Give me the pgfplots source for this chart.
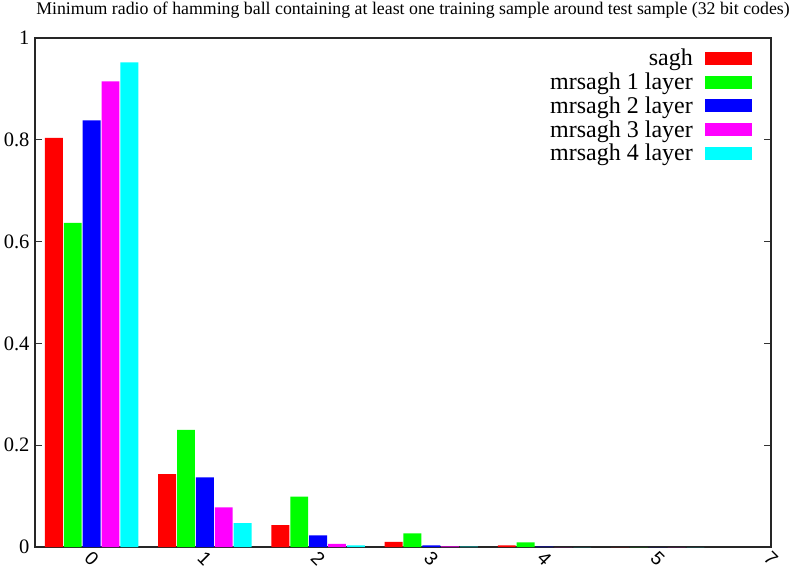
\documentclass[border=0pt]{standalone}
\usepackage{fontspec}
\setmainfont{Liberation Serif}
\setsansfont{Liberation Sans}
\usepackage{pgfplots}
\pgfplotsset{compat=1.18}

\definecolor{cSagh}{RGB}{255,0,0}
\definecolor{cOne}{RGB}{0,255,0}
\definecolor{cTwo}{RGB}{0,0,255}
\definecolor{cThree}{RGB}{255,0,255}
\definecolor{cFour}{RGB}{0,255,255}

\begin{document}
\begin{tikzpicture}[x=1pt,y=1pt]
\begin{axis}[
  scale only axis,
  width=736pt, height=509pt,
  ybar,
  bar width=0.158,
  xmin=-0.5, xmax=6,
  ymin=0, ymax=1,
  xtick={0,1,2,3,4,5,6},
  xticklabels={0,1,2,3,4,5,7},
  ytick={0,0.2,0.4,0.6,0.8,1},
  yticklabels={0,0.2,0.4,0.6,0.8,1},
  axis line style={line width=1.3pt, black!85},
  x tick style={draw=none},
  y tick style={line width=0.8pt, black!80},
  tick align=inside,
  major tick length=7pt,
  ytick pos=both,
  xtick pos=bottom,
  /pgf/number format/assume math mode=true,
  yticklabel style={font=\rmfamily\fontsize{20.5}{22}\selectfont, xshift=-2pt},
  xticklabel style={font=\sffamily\fontsize{19}{21}\selectfont, inner sep=0pt, anchor=center, yshift=-12pt, rotate=-45},
  title={Minimum radio of hamming ball containing at least one training sample around test sample (32 bit codes)},
  title style={font=\fontsize{17.8}{20}\selectfont, at={(rel axis cs:0.5,1)}, anchor=base, xshift=10pt, yshift=17pt, inner sep=0pt},
  legend plot pos=right,
  legend cell align=right,
  legend style={at={(rel axis cs:1,1)}, anchor=north east, xshift=-16pt, yshift=-7pt,
    draw=none, fill=none, font=\fontsize{24}{26}\selectfont, row sep=1.6pt,
    /tikz/every odd column/.append style={column sep=10pt}},
  legend image code/.code={\path[#1, draw=none] (0pt,-6.5pt) rectangle (47pt,6.5pt);},
]
\addplot[fill=cSagh, draw=none, bar shift=-0.3333] coordinates
  {(0,0.804) (1,0.143) (2,0.043) (3,0.010) (4,0.003) (5,0)};
\addplot[fill=cOne, draw=none, bar shift=-0.1667] coordinates
  {(0,0.637) (1,0.230) (2,0.099) (3,0.027) (4,0.009) (5,0)};
\addplot[fill=cTwo, draw=none, bar shift=0] coordinates
  {(0,0.838) (1,0.137) (2,0.023) (3,0.003) (4,0.0005) (5,0)};
\addplot[fill=cThree, draw=none, bar shift=0.1667] coordinates
  {(0,0.915) (1,0.078) (2,0.006) (3,0.001) (4,0) (5,0)};
\addplot[fill=cFour, draw=none, bar shift=0.3333] coordinates
  {(0,0.952) (1,0.047) (2,0.003) (3,0.0005) (4,0) (5,0)};
\legend{sagh, mrsagh 1 layer, mrsagh 2 layer, mrsagh 3 layer, mrsagh 4 layer}
\end{axis}
% fixed page frame around the axis box
\pgfresetboundingbox
\path[use as bounding box]
  ([xshift=-35pt,yshift=-22pt]current axis.south west) rectangle
  ([xshift=24pt,yshift=38pt]current axis.north east);
\end{tikzpicture}
\end{document}
